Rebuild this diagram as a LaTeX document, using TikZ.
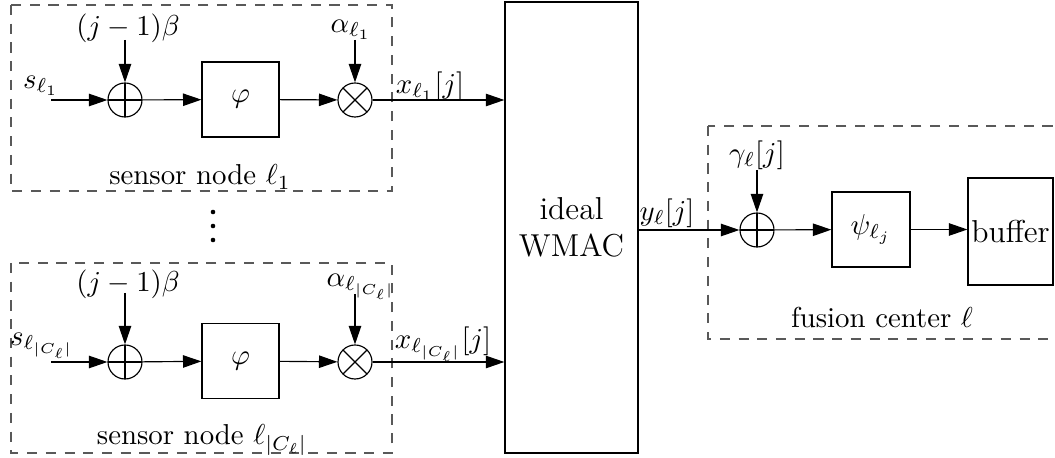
\documentclass[tikz,border=0pt]{standalone}
\usetikzlibrary{arrows.meta,calc}
\begin{document}
\begin{tikzpicture}[x=0.347pt,y=-0.347pt,
  >={Triangle[length=6.4pt,width=4.3pt]},
  blockbox/.style={draw,inner sep=0pt},
  txt/.style={inner sep=0pt},
  bigtxt/.style={font=\fontsize{11}{12.8}\selectfont},
  sumnode/.style={circle,draw,minimum size=11.8pt,inner sep=0pt,
    path picture={\draw (path picture bounding box.north)--(path picture bounding box.south)
      (path picture bounding box.west)--(path picture bounding box.east);}},
  mulnode/.style={circle,draw,minimum size=11.8pt,inner sep=0pt,
    path picture={\draw (path picture bounding box.north west)--(path picture bounding box.south east)
      (path picture bounding box.north east)--(path picture bounding box.south west);}},
  group/.style={draw=black!65,dash pattern=on 3.5pt off 3pt}]
\useasboundingbox (0,0) rectangle (1055,458);
% group frames
\draw[group] (11,5) rectangle (392,191);
\draw[group] (11,263) rectangle (392,453);
\draw[group] (708,126) rectangle (1070,339);
% ---- sensor node l1
\coordinate (s1) at (51,100);
\node[sumnode] (a1) at (125,100) {};
\node[blockbox,minimum width=26.7pt,minimum height=26pt] (phi1) at (240.5,99.5) {$\varphi$};
\node[mulnode] (m1) at (355,100) {};
\node[txt] (b1) at (128,28) {$(j-1)\beta$};
\coordinate (b1s) at (125,40);
\node[txt] (al1) at (351,30) {$\alpha_{\ell_1}$};
\coordinate (al1s) at (355,40);
\node[txt] (sl1) at (41,86) {$s_{\ell_1}$};
\node[txt] (xl1) at (430,86) {$x_{\ell_1}[j]$};
\node[txt] (sn1) at (200,177) {sensor node $\ell_1$};
% ---- sensor node l|C|
\coordinate (s2) at (51,362);
\node[sumnode] (a2) at (125,362) {};
\node[blockbox,minimum width=26.7pt,minimum height=26pt] (phi2) at (240.5,361) {$\varphi$};
\node[mulnode] (m2) at (355,362) {};
\node[txt] (b2) at (128,284) {$(j-1)\beta$};
\coordinate (b2s) at (125,293);
\node[txt] (al2) at (361,287) {$\alpha_{\ell_{|C_\ell|}}$};
\coordinate (al2s) at (355,294);
\node[txt] (sl2) at (42,346) {$s_{\ell_{|C_\ell|}}$};
\node[txt] (xl2) at (443,344) {$x_{\ell_{|C_\ell|}}[j]$};
\node[txt] (sn2) at (202,440) {sensor node $\ell_{|C_\ell|}$};
% dots
\fill (213,212) circle[radius=0.8pt];
\fill (213,226) circle[radius=0.8pt];
\fill (213,240) circle[radius=0.8pt];
% ---- WMAC
\node[blockbox,bigtxt,minimum width=46.2pt,minimum height=156.5pt,align=center] (w) at (571.5,227.5) {ideal\\WMAC};
% ---- fusion center
\node[sumnode] (f1) at (757,230) {};
\node[blockbox,minimum width=27.1pt,minimum height=26pt] (psi) at (871,229.5) {$\psi_{\ell_j}$};
\node[blockbox,bigtxt,minimum width=29.5pt,minimum height=37.1pt] (buf) at (1010.5,231.5) {buffer};
\node[txt] (gl) at (757,155) {$\gamma_\ell[j]$};
\coordinate (gls) at (757,170);
\node[txt] (yl) at (667,213) {$y_\ell[j]$};
\node[txt] (fc) at (882,318) {fusion center $\ell$};
% ---- connectors
\draw[->] (s1) -- (a1);
\draw[->] (a1) -- (phi1);
\draw[->] (phi1) -- (m1);
\draw[->] (m1) -- (m1 -| w.west);
\draw[->] (b1s) -- (a1);
\draw[->] (al1s) -- (m1);
\draw[->] (s2) -- (a2);
\draw[->] (a2) -- (phi2);
\draw[->] (phi2) -- (m2);
\draw[->] (m2) -- (m2 -| w.west);
\draw[->] (b2s) -- (a2);
\draw[->] (al2s) -- (m2);
\draw[->] (f1 -| w.east) -- (f1);
\draw[->] (gls) -- (f1);
\draw[->] (f1) -- (psi);
\draw[->] (psi.east) -- (psi.east -| buf.west);
\end{tikzpicture}
\end{document}
